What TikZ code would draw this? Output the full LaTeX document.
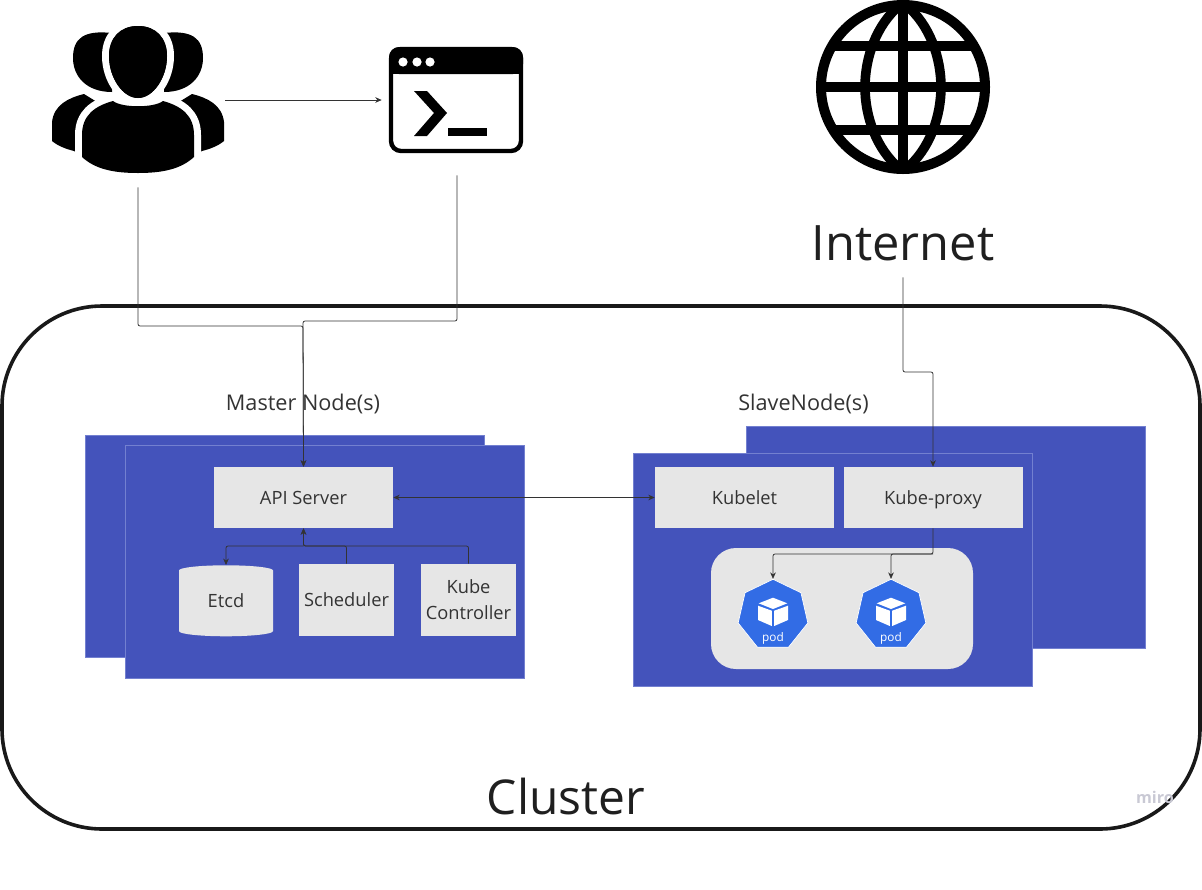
\documentclass[tikz,border=0pt]{standalone}
\usepackage{fontspec}
\setmainfont{Open Sans}
\usepackage{xcolor}
\usetikzlibrary{arrows.meta,positioning,calc,shapes.geometric}
\definecolor{boxblue}{HTML}{4453BB}
\definecolor{boxedge}{HTML}{7380D0}
\definecolor{partgray}{HTML}{E6E6E6}
\definecolor{podblue}{HTML}{326CE5}
\definecolor{inkgray}{HTML}{333333}
\definecolor{markgray}{HTML}{C9C9D4}
\newlength{\pxu}
\setlength{\pxu}{0.025cm}

\begin{document}
\begin{tikzpicture}[
  x=0.025cm, y=-0.025cm,
  cluster/.style={rectangle, rounded corners=100\pxu, minimum width=1198\pxu,
                  minimum height=523\pxu, draw=black!90, line width=3.6\pxu},
  machine/.style={rectangle, minimum width=399\pxu, draw=boxedge, line width=0.3pt, fill=boxblue},
  part/.style={rectangle, inner sep=0pt, fill=partgray, text=inkgray,
               font=\fontsize{13}{18.5}\selectfont, align=center},
  wide/.style={part, minimum width=179\pxu, minimum height=61\pxu, text height=12pt, text depth=2.6pt},
  small/.style={part, minimum width=95\pxu, minimum height=72\pxu},
  podcell/.style={regular polygon, regular polygon sides=7, inner sep=0pt,
                  minimum size=71.5\pxu, fill=podblue, draw=white, line width=0.5pt},
  heading/.style={text=inkgray, font=\fontsize{15.4}{19}\selectfont},
  bigtext/.style={text=black!88, inner sep=0pt},
  icon/.style={inner sep=0pt},
  conn/.style={-{Stealth[length=4.6pt,width=4pt]}, inkgray, line width=0.55pt, rounded corners=2\pxu},
  halo/.style={fill=black, preaction={draw=white, line width=14\pxu}},
]
\useasboundingbox (0,0) rectangle (1202,889);

% cluster and machines
\node[cluster] (cluster) at (601,567.5) {};
\node[machine, minimum height=222\pxu] (masterback) at (284.5,546) {};
\node[machine, minimum height=233\pxu] (masterfront) at (324.5,561.5) {};
\node[machine, minimum height=222\pxu] (slaveback) at (946,537.5) {};
\node[machine, minimum height=233\pxu] (slavefront) at (832.5,569.5) {};

% users
\fill (112,33) .. controls (84,30) and (73,38) .. (73,58) .. controls (73,76) and (86,92) .. (112,92) -- cycle;
\fill (164,33) .. controls (192,30) and (203,38) .. (203,58) .. controls (203,76) and (190,92) .. (164,92) -- cycle;
\fill (52,141) -- (52,122) .. controls (54,105) and (68,98) .. (84,94) -- (110,110) -- (90,160) -- (74,151)
  .. controls (66,149) and (58,146) .. (52,141) -- cycle;
\fill (224,141) -- (224,122) .. controls (222,105) and (208,98) .. (192,94) -- (166,110) -- (186,160) -- (202,151)
  .. controls (210,149) and (218,146) .. (224,141) -- cycle;
\path[halo] (138,26) .. controls (156,26) and (167,38) .. (167,56) .. controls (167,78) and (153,98) .. (138,98)
  .. controls (123,98) and (109,78) .. (109,56) .. controls (109,38) and (120,26) .. (138,26) -- cycle;
\path[halo] (82,157) -- (82,135) .. controls (82,115) and (95,106) .. (113,101) .. controls (122,108) and (154,108) .. (163,101)
  .. controls (181,106) and (194,115) .. (194,135) -- (194,157) .. controls (180,170) and (160,173) .. (138,173)
  .. controls (116,173) and (96,170) .. (82,157) -- cycle;
\fill (138,26) .. controls (156,26) and (167,38) .. (167,56) .. controls (167,78) and (153,98) .. (138,98)
  .. controls (123,98) and (109,78) .. (109,56) .. controls (109,38) and (120,26) .. (138,26) -- cycle;
\node[icon, minimum width=174\pxu, minimum height=174\pxu] (users) at (138,100) {};

% terminal
\draw[line width=4.4\pxu, rounded corners=10\pxu] (391,49) rectangle (521,151);
\fill[rounded corners=10\pxu] (389,74) -- (389,47) -- (523,47) -- (523,74) -- cycle;
\fill (389,70) rectangle (523,74);
\fill[white] (403,62) circle (4.6) (417,62) circle (4.6) (430,62) circle (4.6);
\fill (414,91) -- (427,91) -- (447,113) -- (427,136) -- (414,136) -- (434,113) -- cycle;
\fill (448,128) rectangle (487,136);
\node[icon, minimum width=150\pxu, minimum height=150\pxu] (terminal) at (457,100) {};

% globe
\begin{scope}
  \clip (903,87) circle (85);
  \draw[line width=9.6\pxu] (903,0) -- (903,173);
  \draw[line width=9.6\pxu] (817,87) -- (990,87);
  \draw[line width=9.6\pxu] (817,46) -- (990,46);
  \draw[line width=9.6\pxu] (817,130) -- (990,130);
  \draw[line width=9.6\pxu] (900,5) .. controls (876,25) and (865,58) .. (865,87) .. controls (865,116) and (876,149) .. (900,169);
  \draw[line width=9.6\pxu] (906,5) .. controls (930,25) and (941,58) .. (941,87) .. controls (941,116) and (930,149) .. (906,169);
\end{scope}
\draw[line width=10\pxu] (903,87) circle (82);

% labels
\node[bigtext, font=\fontsize{34.7}{40}\selectfont, minimum height=68\pxu] (internet) at (903,243) {Internet};
\node[bigtext, font=\fontsize{34.1}{40}\selectfont] (clusterlabel) at (566,797) {Cluster};
\node[heading] (masterlabel) at (303,403.5) {Master Node(s)};
\node[heading] (slavelabel) at (803.5,403.5) {SlaveNode(s)};
\node[inner sep=0pt, text=markgray, font=\fontsize{11.5}{13}\bfseries\selectfont] (miro) at (1155,797) {miro};

% master parts
\node[wide] (api) at (303.5,497.5) {API Server};
\node[cylinder, shape border rotate=90, aspect=0.28, inner sep=0pt, minimum width=94\pxu, minimum height=71\pxu,
      fill=partgray, anchor=north, text depth=4.2pt,
      text=inkgray, font=\fontsize{13}{18.5}\selectfont] (etcd) at (226,565) {Etcd};
\node[small] (scheduler) at (346.5,600) {Scheduler};
\node[small] (controller) at (468.5,600) {Kube\\Controller};

% slave parts
\node[wide] (kubelet) at (744.5,497.5) {Kubelet};
\node[wide] (proxy) at (933,497.5) {Kube-proxy};
\node[rectangle, rounded corners=25\pxu, minimum width=262\pxu, minimum height=121\pxu, fill=partgray] (podbox) at (842,608.5) {};
\node[podcell] (poda) at (773,615) {};
\node[podcell] (podb) at (891,615) {};
\foreach \podname in {poda,podb} {
  \fill[white, shift={(\podname.center)}] (0,-17.3) -- (14.3,-11.7) -- (0,-6) -- (-14.3,-11.7) -- cycle
    (-15,-9.3) -- (-1.2,-4.3) -- (-1.2,11) -- (-15,5) -- cycle
    (15,-9.3) -- (1.2,-4.3) -- (1.2,11) -- (15,5) -- cycle;
}
\node[inner sep=0pt, text=white, font=\fontsize{8.4}{10}\selectfont] (podatext) at (773,638) {pod};
\node[inner sep=0pt, text=white, font=\fontsize{8.4}{10}\selectfont] (podbtext) at (891,638) {pod};

% connectors
\coordinate (usersbend) at (303,326);
\coordinate (terminalbend) at (303,321);
\coordinate (proxybend) at (933,372);
\coordinate (apijoin) at (303.5,546);
\coordinate (proxydrop) at (933,554);

\draw[conn] (users.east)--(terminal.west);
\draw[conn] (users.south) |- (usersbend) -- (api.north);
\draw[conn] (terminal.south) |- (terminalbend) -- (api.north);
\draw[conn] (internet.south) |- (proxybend) -- (proxy.north);
\draw[conn, {Stealth[length=4.6pt,width=4pt]}-{Stealth[length=4.6pt,width=4pt]}] (api.east)--(kubelet.west);
\draw[conn] (scheduler.north) |- (apijoin) -- (api.south);
\draw[conn] (controller.north) |- (apijoin) -- (api.south);
\draw[conn] (apijoin) -| (etcd.north);
\draw[conn] (proxy.south) -- (proxydrop) -| (poda.north);
\draw[conn] (proxydrop) -| (podb.north);
\end{tikzpicture}
\end{document}
